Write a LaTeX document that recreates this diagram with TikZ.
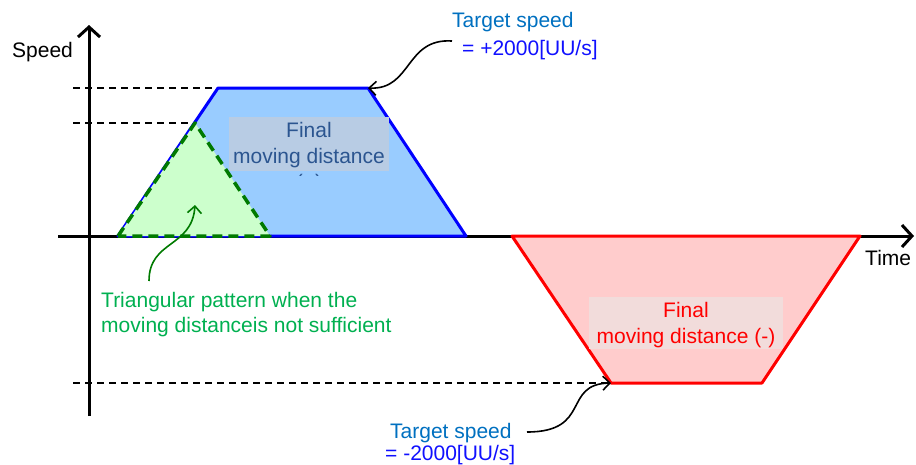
\documentclass[tikz,border=0pt]{standalone}
\usepackage{fontspec}
\setmainfont{Liberation Sans}
\usetikzlibrary{arrows.meta}
\definecolor{bluefill}{HTML}{99CCFF}
\definecolor{blueline}{HTML}{0000FF}
\definecolor{redfill}{HTML}{FFCCCC}
\definecolor{redline}{HTML}{FF0000}
\definecolor{greenfill}{HTML}{CCFFCC}
\definecolor{greenline}{HTML}{007A00}
\definecolor{greentext}{HTML}{00B050}
\definecolor{tgtcol}{HTML}{0070C0}
\definecolor{valcol}{HTML}{1010FF}
\definecolor{boxblue}{HTML}{B8CCE4}
\definecolor{boxbluetext}{HTML}{2B5590}
\definecolor{boxred}{HTML}{F2DCDB}
\tikzset{
  lbl/.style={inner sep=0pt, font=\fontsize{21}{25}\selectfont},
  axisline/.style={line width=3pt, -{Straight Barb[length=10pt,width=22pt]}},
  guide/.style={line width=1.5pt, dash pattern=on 7pt off 5pt},
  callout/.style={line width=1.6pt, -{Straight Barb[length=7pt,width=14pt]}},
}
\begin{document}
\begin{tikzpicture}[x=1pt,y=-1pt]
\useasboundingbox (0,0) rectangle (916,464);
% coordinates
\coordinate (ybot) at (89,416);
\coordinate (ytop) at (89,25);
\coordinate (xl) at (58,236);
\coordinate (xr) at (914,236);
\coordinate (b1) at (118,236);
\coordinate (b2) at (218,88);
\coordinate (b3) at (368,88);
\coordinate (b4) at (466,236);
\coordinate (g1) at (118,236);
\coordinate (g2) at (195,123);
\coordinate (g3) at (270,236);
\coordinate (r1) at (512,236);
\coordinate (r2) at (611,383);
\coordinate (r3) at (762,383);
\coordinate (r4) at (860,236);
\coordinate (d1) at (73,88);
\coordinate (d2) at (73,123);
\coordinate (d3) at (73,383);
\coordinate (cs1) at (452,41);
\coordinate (cs2) at (527,432);
\coordinate (cs3) at (149,281);
\coordinate (ce3) at (195,205);
% guides
\draw[guide] (d1) -- (b2);
\draw[guide] (d2) -- (g2);
\draw[guide] (d3) -- (r2);
% axes
\draw[axisline] (ybot) -- (ytop);
\draw[axisline] (xl) -- (xr);
% shapes
\filldraw[fill=bluefill, draw=blueline, line width=3pt, line join=round] (b1) -- (b2) -- (b3) -- (b4) -- cycle;
\filldraw[fill=greenfill, draw=greenline, line width=3.5pt, dash pattern=on 10pt off 6pt, line join=round] (g1) -- (g2) -- (g3) -- cycle;
\filldraw[fill=redfill, draw=redline, line width=3pt, line join=round] (r1) -- (r2) -- (r3) -- (r4) -- cycle;
% blue label box
\fill[boxblue] (229,117) rectangle (389,171);
\begin{scope}
\clip (229,117) rectangle (389,175);
\node[lbl, text=boxbluetext, anchor=base] (bl1) at (309,137) {Final};
\node[lbl, text=boxbluetext, anchor=base] (bl2) at (309,163) {moving distance};
\node[lbl, text=boxbluetext, anchor=base] (bl3) at (309,189) {(+)};
\end{scope}
% red label box
\fill[boxred] (589,297) rectangle (783,349);
\node[lbl, text=redline, anchor=base] (rl1) at (686,317) {Final};
\node[lbl, text=redline, anchor=base] (rl2) at (686,343) {moving distance (-)};
% axis labels
\node[lbl, anchor=base west] (speed) at (12,57) {Speed};
\node[lbl, anchor=base west] (time) at (865,265) {Time};
% target speed labels
\node[lbl, anchor=base west, text=tgtcol] (tt1) at (452,27) {Target speed};
\node[lbl, anchor=base west, text=valcol] (tt2) at (462,55) {= +2000[UU/s]};
\node[lbl, anchor=base west, text=tgtcol] (tb1) at (390,438) {Target speed};
\node[lbl, anchor=base west, text=valcol] (tb2) at (385,460) {= -2000[UU/s]};
% green label
\node[lbl, anchor=base west, text=greentext] (gt1) at (101,307) {Triangular pattern when the};
\node[lbl, anchor=base west, text=greentext] (gt2) at (101,332) {moving distanceis not sufficient};
% callouts
\draw[callout] (cs1) .. controls (405,38) and (412,90) .. (b3);
\draw[callout] (cs2) .. controls (592,432) and (562,384) .. (r2);
\draw[callout, draw=greenline] (cs3) .. controls (149,240) and (192,248) .. (ce3);
\end{tikzpicture}
\end{document}
